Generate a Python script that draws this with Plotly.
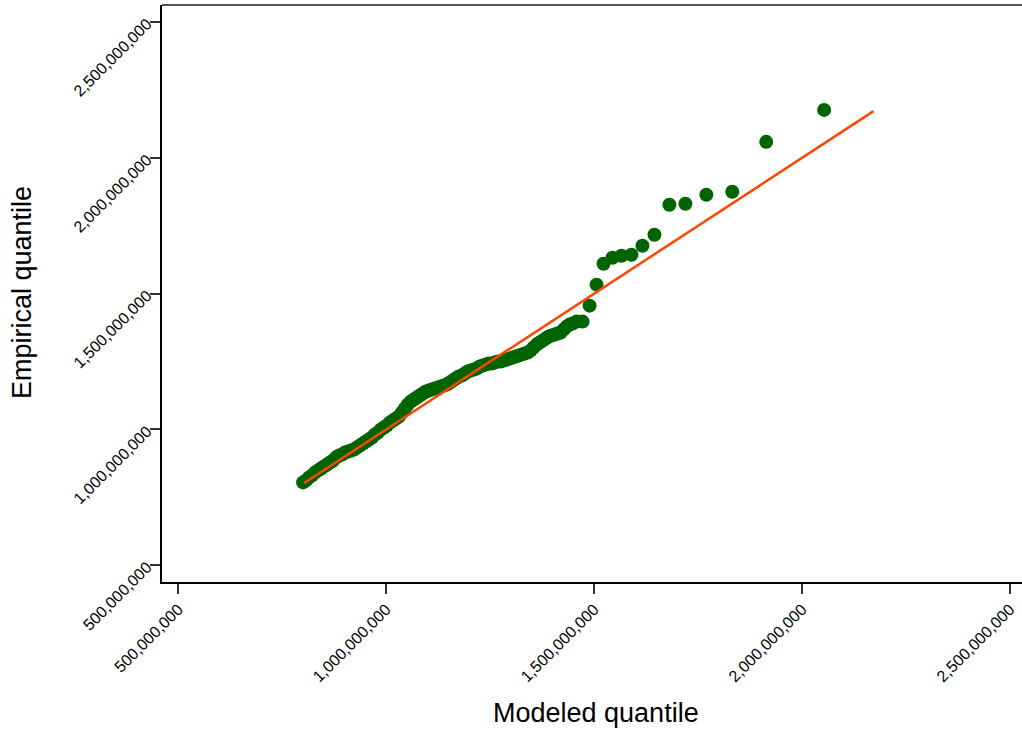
import plotly.graph_objects as go

# Q-Q data (values in millions)
modeled_m = [800.0, 807.3, 814.5, 821.7, 828.9, 836.1, 843.3, 850.5, 857.7, 864.9,
             872.1, 879.3, 886.5, 893.7, 900.9, 908.1, 915.3, 922.5, 929.7, 936.9,
             944.1, 951.3, 958.5, 965.7, 972.9, 980.1, 987.3, 994.5, 1001.7, 1008.9,
             1016.1, 1023.3, 1030.5, 1037.7, 1044.9, 1052.1, 1059.3, 1066.5, 1073.7, 1080.9,
             1088.1, 1095.3, 1102.5, 1109.7, 1116.9, 1124.1, 1131.3, 1138.5, 1145.7, 1152.9,
             1160.1, 1167.3, 1174.5, 1181.7, 1188.9, 1196.1, 1203.3, 1210.5, 1217.7, 1224.9,
             1232.1, 1239.3, 1246.5, 1253.7, 1260.9, 1268.1, 1275.3, 1282.5, 1289.7, 1296.9,
             1304.1, 1311.3, 1318.5, 1325.7, 1332.9, 1340.1, 1347.3, 1354.5, 1361.7, 1368.9,
             1376.1, 1383.3, 1390.5, 1397.7, 1405.0, 1412.2, 1419.4, 1426.6, 1433.8, 1441.0,
             1448.2, 1457.8, 1472.2, 1489.0, 1505.8, 1522.6, 1544.2, 1565.8, 1589.8, 1616.2,
             1645.0, 1681.0, 1719.4, 1769.8, 1832.2, 1913.8, 2053.1]
empirical_m = [805.1, 812.5, 823.5, 830.9, 841.9, 849.3, 856.6, 864.0, 871.3, 878.7,
               886.0, 897.1, 904.4, 908.1, 915.4, 919.1, 922.8, 926.5, 933.8, 941.2,
               948.5, 955.9, 963.2, 970.6, 981.6, 989.0, 1000.0, 1007.4, 1014.7, 1025.7,
               1033.1, 1040.4, 1047.8, 1062.5, 1077.2, 1091.9, 1102.9, 1110.3, 1117.7, 1125.0,
               1132.4, 1139.7, 1143.4, 1147.1, 1150.7, 1154.4, 1158.1, 1161.8, 1165.4, 1172.8,
               1180.2, 1187.5, 1194.9, 1198.5, 1205.9, 1213.2, 1216.9, 1220.6, 1224.3, 1231.6,
               1235.3, 1239.0, 1242.7, 1242.7, 1246.3, 1250.0, 1250.0, 1253.7, 1257.4, 1261.0,
               1264.7, 1268.4, 1272.1, 1275.7, 1279.4, 1283.1, 1290.4, 1301.5, 1312.5, 1319.9,
               1327.2, 1334.6, 1341.9, 1345.6, 1349.3, 1353.0, 1356.6, 1367.7, 1378.7, 1386.0,
               1389.7, 1397.1, 1397.1, 1455.9, 1533.1, 1610.3, 1632.4, 1639.7, 1643.4, 1676.5,
               1716.9, 1827.2, 1830.9, 1864.0, 1875.0, 2058.8, 2176.5]
ref_line_m = [803.0, 2172.0]

tick_vals_m = [500, 1000, 1500, 2000, 2500]
tick_text = ["500,000,000", "1,000,000,000", "1,500,000,000", "2,000,000,000", "2,500,000,000"]

M = 1e6
modeled = [v * M for v in modeled_m]
empirical = [v * M for v in empirical_m]
ref_line = [v * M for v in ref_line_m]
tick_vals = [v * M for v in tick_vals_m]

FONT = "Liberation Sans, Arial, sans-serif"

fig = go.Figure()
fig.add_trace(go.Scatter(x=modeled, y=empirical, mode="markers",
                         marker=dict(size=14, color="#006400", line=dict(width=0)),
                         showlegend=False, hoverinfo="x+y"))
fig.add_trace(go.Scatter(x=ref_line, y=ref_line, mode="lines",
                         line=dict(color="#FF4500", width=2.5),
                         showlegend=False))

axis_common = dict(showgrid=False, zeroline=False, showline=True, linecolor="black",
                   linewidth=1.5, ticks="outside", ticklen=10, tickwidth=1.5,
                   tickcolor="#333", tickvals=tick_vals, ticktext=tick_text,
                   tickangle=-45, tickfont=dict(family=FONT, size=16, color="black"))

fig.update_xaxes(range=[460.8 * M, 2528.9 * M], **axis_common)
fig.update_yaxes(range=[438.5 * M, 2562.6 * M], **axis_common)

fig.add_shape(type="line", xref="paper", yref="paper", x0=0, x1=1, y0=1, y1=1,
              line=dict(color="#555555", width=2))

fig.add_annotation(text="Modeled quantile", xref="paper", yref="paper",
                   x=(596 - 162) / 860, y=(582 - 713) / 577, showarrow=False,
                   xanchor="center", yanchor="middle",
                   font=dict(family=FONT, size=27, color="black"))
fig.add_annotation(text="Empirical quantile", xref="paper", yref="paper",
                   x=(22 - 162) / 860, y=(582 - 293) / 577, showarrow=False,
                   textangle=-90, xanchor="center", yanchor="middle",
                   font=dict(family=FONT, size=27, color="black"))

fig.update_layout(width=1022, height=732, margin=dict(l=162, r=0, t=5, b=150),
                  plot_bgcolor="white", paper_bgcolor="white",
                  font=dict(family=FONT, color="black"))

fig.write_html("out.html")
